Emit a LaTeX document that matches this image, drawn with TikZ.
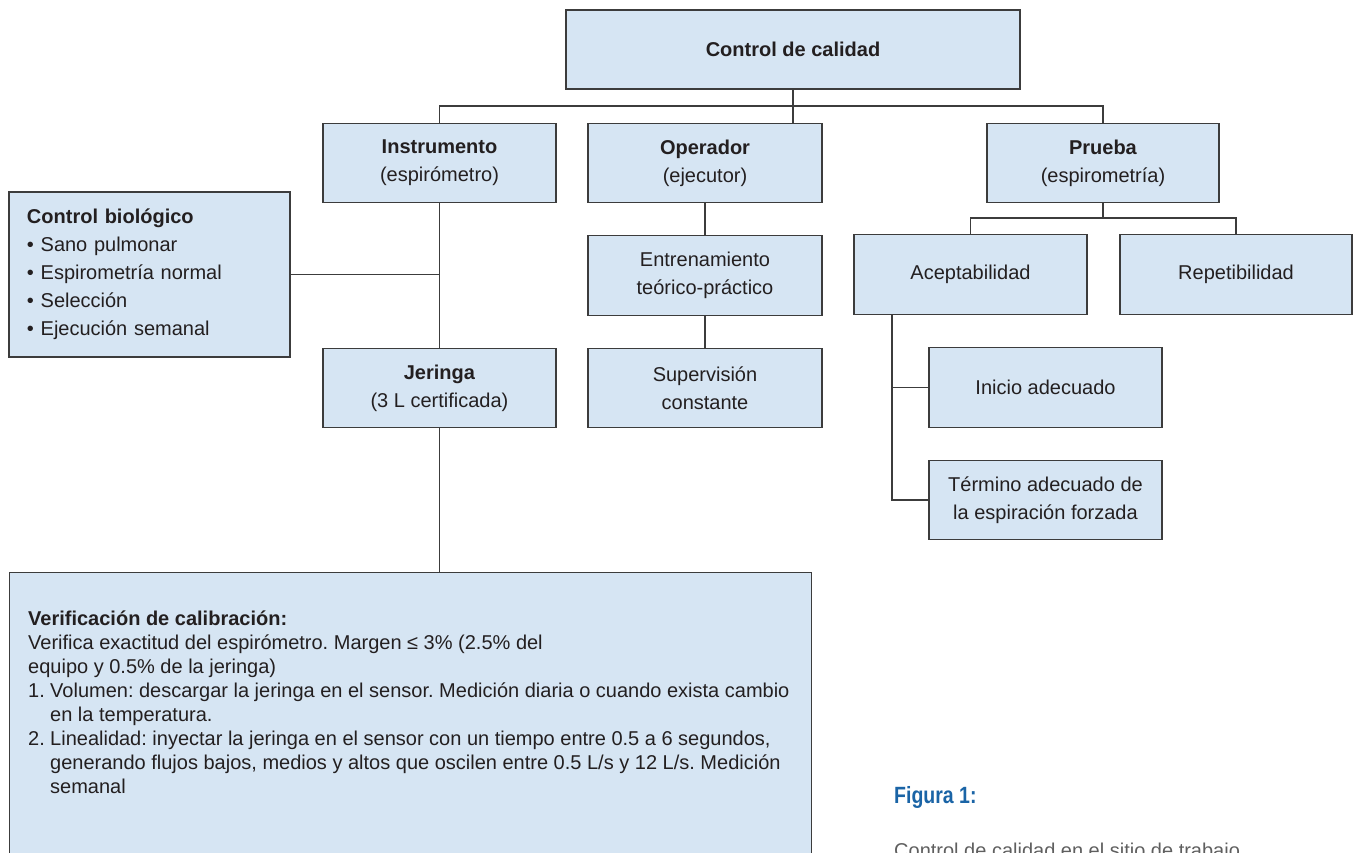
\documentclass[tikz,border=0pt]{standalone}
\usepackage{fontspec}
\setmainfont{Liberation Sans}
\newfontfamily\capfont{Liberation Sans}[FakeStretch=0.83]
\definecolor{boxfill}{RGB}{214,229,243}
\definecolor{boxdraw}{RGB}{60,60,60}
\definecolor{txt}{RGB}{35,31,32}
\definecolor{capblue}{RGB}{26,100,166}
\definecolor{capgray}{RGB}{95,95,95}
\tikzset{
  box/.style={draw=boxdraw, fill=boxfill, line width=1.4pt, inner sep=0pt,
    align=center, text=txt, font=\fontsize{20}{28}\selectfont},
  std/.style={box, minimum width=233, minimum height=79.5},
  link/.style={draw=boxdraw, line width=1.4pt},
  plain/.style={inner sep=0pt, text=txt, align=left},
}
\begin{document}
\frenchspacing
\begin{tikzpicture}[x=1pt,y=-1pt]
\useasboundingbox (0,0) rectangle (1356,853);

% top level
\node[box, minimum width=454, minimum height=79] (cdc) at (793,49.5) {\textbf{Control de calidad}};
\node[std] (inst) at (439.5,163) {\textbf{Instrumento}\\(espirómetro)};
\node[std, minimum width=234] (oper) at (705,163) {\textbf{Operador}\\(ejecutor)};
\node[std, minimum width=232] (prue) at (1103,163) {\textbf{Prueba}\\(espirometría)};

% instrumento branch
\node[box, minimum width=281, minimum height=165, text width=245, inner xsep=18pt, align=left] (cbio) at (149.5,274.5)
  {\textbf{Control biológico}\\
   • Sano pulmonar\\
   • Espirometría normal\\
   • Selección\\
   • Ejecución semanal};
\node[std] (jer) at (439.5,388) {\textbf{Jeringa}\\(3 L certificada)};

% operador branch
\node[std, minimum width=234] (entr) at (705,275.5) {Entrenamiento\\teórico-práctico};
\node[std, minimum width=234] (sup) at (705,388) {Supervisión\\constante};

% prueba branch
\node[std] (acep) at (970.5,274.5) {Aceptabilidad};
\node[std, minimum width=232] (rep) at (1236,274.5) {Repetibilidad};
\node[std] (ini) at (1045.5,387.5) {Inicio adecuado};
\node[std] (ter) at (1045.5,500) {Término adecuado de\\la espiración forzada};

% verification box
\node[box, anchor=north west, minimum width=802, minimum height=330] (ver) at (9,572) {};
\node[plain, anchor=north west, font=\fontsize{20}{24}\selectfont] (vertext) at (28,610.5)
  {\textbf{Verificación de calibración:}\\
   Verifica exactitud del espirómetro. Margen ≤ 3\% (2.5\% del\\
   equipo y 0.5\% de la jeringa)\\
   \makebox[22pt][l]{1.}Volumen: descargar la jeringa en el sensor. Medición diaria o cuando exista cambio\\
   \hspace*{22pt}en la temperatura.\\
   \makebox[22pt][l]{2.}Linealidad: inyectar la jeringa en el sensor con un tiempo entre 0.5 a 6 segundos,\\
   \hspace*{22pt}generando flujos bajos, medios y altos que oscilen entre 0.5 L/s y 12 L/s. Medición\\
   \hspace*{22pt}semanal};

% caption
\node[inner sep=0pt, anchor=base west, text=capblue, font=\capfont\fontsize{23.5}{28}\selectfont\bfseries] (figlab) at (894,803) {Figura 1:};
\node[inner sep=0pt, anchor=base west, text=capgray, font=\fontsize{20}{24}\selectfont] (figtxt) at (894,857.5) {Control de calidad en el sitio de trabajo};

% connectors
\coordinate (bus) at (0,106);
\coordinate (bus2) at (0,218);
\coordinate (acx) at (892,0);
\draw[link] (cdc.south) -- (cdc.south |- oper.north);
\draw[link] (inst.north) -- (inst.north |- bus) -- (prue.north |- bus) -- (prue.north);
\draw[link] (inst.south) -- (jer.north);
\draw[link] (cbio.east) -- (inst.south |- cbio.east);
\draw[link] (jer.south) -- (jer.south |- ver.north);
\draw[link] (oper.south) -- (entr.north);
\draw[link] (entr.south) -- (sup.north);
\draw[link] (prue.south) -- (prue.south |- bus2);
\draw[link] (acep.north) -- (acep.north |- bus2) -- (rep.north |- bus2) -- (rep.north);
\draw[link] (acep.south -| acx) |- (ter.west);
\draw[link] (acx |- ini.west) -- (ini.west);
\end{tikzpicture}
\end{document}
